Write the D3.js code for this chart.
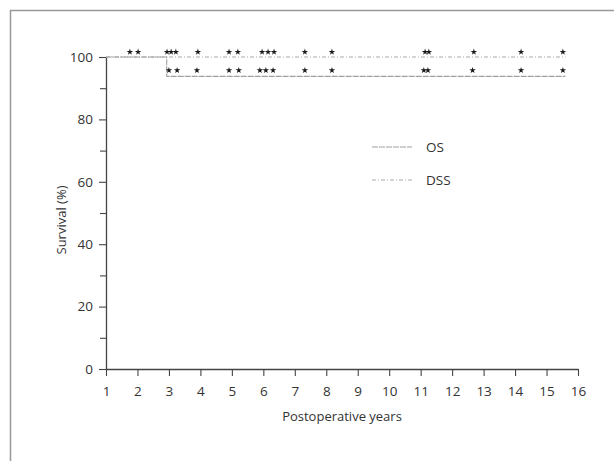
<!DOCTYPE html>
<html>
<head>
<meta charset="utf-8">
<script src="https://cdn.jsdelivr.net/npm/d3@7"></script>
<style>
  body { margin: 0; background: #fff; }
  text { font-family: "Open Sans", "DejaVu Sans", sans-serif; fill: #333; }
</style>
</head>
<body>
<div id="chart"></div>
<script>
// axis ticks
var xTicks = [1, 2, 3, 4, 5, 6, 7, 8, 9, 10, 11, 12, 13, 14, 15, 16];
var yTicks = [0, 20, 40, 60, 80, 100];
var yMinorTicks = [10, 30, 50, 70, 90];

// step curves (years, survival %)
var dssTimes = [1, 15.6];
var dssSurv = [100, 100];
var osTimes = [1, 2.93, 15.6];
var osSurv = [100, 93.8, 93.8];

// censored cases (years)
var dssCensor = [1.76, 2.02, 2.94, 3.07, 3.22, 3.92, 4.91, 5.19, 5.96, 6.15, 6.34, 7.32, 8.18, 11.14, 11.26, 12.69, 14.19, 15.52];
var osCensor = [3.0, 3.26, 3.89, 4.91, 5.22, 5.89, 6.08, 6.31, 7.32, 8.18, 11.10, 11.23, 12.65, 14.19, 15.52];

var legendNames = ["OS", "DSS"];

var W = 614, H = 461;
var svg = d3.select("#chart").append("svg")
  .attr("width", W).attr("height", H);

// outer frame
svg.append("path")
  .attr("d", "M10.5," + H + " V10.5 H" + W)
  .attr("fill", "none")
  .attr("stroke", "#999")
  .attr("stroke-width", 1.5);

var x = d3.scaleLinear().domain([1, 16]).range([106, 578]);
var y = d3.scaleLinear().domain([0, 100]).range([369, 57]);

// y axis
svg.append("g").attr("transform", "translate(106,0)")
  .call(d3.axisLeft(y).tickValues(yTicks).tickSize(7).tickPadding(6).tickSizeOuter(0));
svg.append("g").attr("transform", "translate(106,0)")
  .call(d3.axisLeft(y).tickValues(yMinorTicks).tickSize(6).tickFormat("").tickSizeOuter(0))
  .select(".domain").remove();

// x axis
svg.append("g").attr("transform", "translate(0,369)")
  .call(d3.axisBottom(x).tickValues(xTicks).tickSize(7).tickPadding(10).tickSizeOuter(0));

svg.selectAll(".domain").attr("stroke", "#444").attr("stroke-width", 1.3);
svg.selectAll(".tick line").attr("stroke", "#444").attr("stroke-width", 1.1);
svg.selectAll(".tick text")
  .style("font-family", "'Open Sans', sans-serif")
  .style("font-size", "13.5px")
  .attr("fill", "#333");

// axis titles
svg.append("text")
  .attr("transform", "translate(66,220) rotate(-90)")
  .attr("text-anchor", "middle")
  .style("font-size", "13px")
  .text("Survival (%)");
svg.append("text")
  .attr("x", 342).attr("y", 421)
  .attr("text-anchor", "middle")
  .style("font-size", "13px")
  .text("Postoperative years");

// step lines
var stepLine = d3.line()
  .x(function (d) { return x(d[0]); })
  .y(function (d) { return y(d[1]); })
  .curve(d3.curveStepAfter);

var osData = osTimes.map(function (t, i) { return [t, osSurv[i]]; });
var dssData = dssTimes.map(function (t, i) { return [t, dssSurv[i]]; });

svg.append("path").datum(dssData)
  .attr("d", stepLine)
  .attr("fill", "none")
  .attr("stroke", "#aaa")
  .attr("stroke-width", 1.1)
  .attr("stroke-dasharray", "4,2,1,2");

svg.append("path").datum(osData)
  .attr("d", stepLine)
  .attr("fill", "none")
  .attr("stroke", "#a0a0a0")
  .attr("stroke-width", 1.1)
  .attr("stroke-dasharray", "6,1");

// censor marks
var star = d3.symbol().type(d3.symbolStar).size(13);
function survAt(times, surv, t) {
  var v = surv[0];
  times.forEach(function (tt, i) { if (t >= tt) v = surv[i]; });
  return v;
}
svg.selectAll(".dssc").data(dssCensor).enter().append("path")
  .attr("class", "dssc")
  .attr("d", star)
  .attr("transform", function (d) {
    return "translate(" + x(d) + "," + (y(survAt(dssTimes, dssSurv, d)) - 5) + ")";
  })
  .attr("fill", "#1a1a1a");
svg.selectAll(".osc").data(osCensor).enter().append("path")
  .attr("class", "osc")
  .attr("d", star)
  .attr("transform", function (d) {
    return "translate(" + x(d) + "," + (y(survAt(osTimes, osSurv, d)) - 6) + ")";
  })
  .attr("fill", "#1a1a1a");

// legend
var legend = svg.append("g");
var legendDash = ["6,1", "4,2,1,2"];
var legendColor = ["#a0a0a0", "#aaa"];
legendNames.forEach(function (name, i) {
  var ly = 147 + i * 33;
  legend.append("line")
    .attr("x1", 372).attr("x2", 412)
    .attr("y1", ly).attr("y2", ly)
    .attr("stroke", legendColor[i])
    .attr("stroke-width", 1.1)
    .attr("stroke-dasharray", legendDash[i]);
  legend.append("text")
    .attr("x", 426).attr("y", ly + 5)
    .style("font-size", "13.5px")
    .text(name);
});
</script>
</body>
</html>
